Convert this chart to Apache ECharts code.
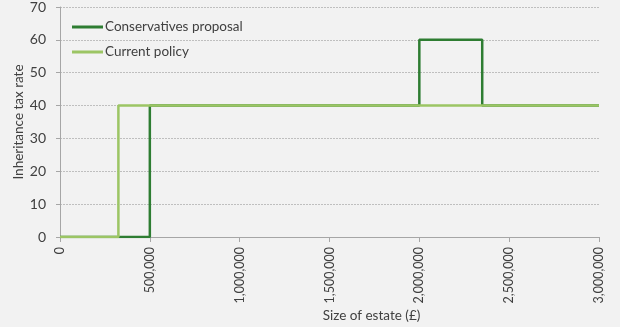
<!DOCTYPE html>
<html><head><meta charset="utf-8">
<script src="https://cdn.jsdelivr.net/npm/echarts@6/dist/echarts.min.js"></script>
<style>html,body{margin:0;padding:0;background:#f2f2f2}#c{width:620px;height:327px}</style>
</head><body><div id="c"></div>
<script>
// Estate sizes (£) and tax rates (%), as step points
const conservativesX = [0, 500000, 500000, 2000000, 2000000, 2350000, 2350000, 3000000];
const conservativesY = [0, 0, 40, 40, 60, 60, 40, 40];
const currentX = [0, 325000, 325000, 3000000];
const currentY = [0, 0, 40, 40];
const seriesNames = ['Conservatives proposal', 'Current policy'];
const yTicks = [0, 10, 20, 30, 40, 50, 60, 70];
const xTicks = [0, 500000, 1000000, 1500000, 2000000, 2500000, 3000000];

const zip = (a, b) => a.map((v, i) => [v, b[i]]);
const font = 'Lato, "Open Sans", sans-serif';
const chart = echarts.init(document.getElementById('c'));
chart.setOption({
  backgroundColor: '#f2f2f2',
  animation: false,
  textStyle: { fontFamily: font },
  grid: { left: 60, right: 21, top: 7, bottom: 90, containLabel: false, outerBoundsMode: 'none' },
  legend: {
    orient: 'vertical', left: 67, top: 15, itemGap: 11,
    itemWidth: 31, itemHeight: 3, icon: 'rect',
    textStyle: { fontSize: 13.5, color: '#404040', fontFamily: font, padding: [0, 0, 0, -3] },
    data: seriesNames
  },
  xAxis: {
    type: 'value', min: xTicks[0], max: xTicks[xTicks.length - 1], interval: 500000,
    name: 'Size of estate (£)', nameLocation: 'middle', nameGap: 72, nameMoveOverlap: false,
    nameTextStyle: { fontSize: 13.5, color: '#404040', padding: [0, 0, 0, 84], fontFamily: font },
    axisLine: { show: true, lineStyle: { color: '#a6a6a6' } },
    axisTick: { show: true, length: 5, lineStyle: { color: '#a6a6a6' } },
    axisLabel: {
      rotate: 90, fontSize: 12.5, color: '#404040', margin: 10, fontFamily: font,
      formatter: v => v.toLocaleString('en-GB')
    },
    splitLine: { show: false }
  },
  yAxis: {
    type: 'value', min: yTicks[0], max: yTicks[yTicks.length - 1], interval: 10,
    name: 'Inheritance tax rate', nameLocation: 'middle', nameGap: 34, nameRotate: 90, nameMoveOverlap: false,
    nameTextStyle: { fontSize: 13.5, color: '#404040', fontFamily: font },
    axisLine: { show: true, lineStyle: { color: '#a6a6a6' } },
    axisTick: { show: true, length: 4, lineStyle: { color: '#a6a6a6' } },
    axisLabel: { fontSize: 14, color: '#404040', margin: 14, fontFamily: font },
    splitLine: { show: true, lineStyle: { color: '#bfbfbf', type: [2, 1], width: 1 } }
  },
  series: [
    {
      name: seriesNames[0], type: 'line', symbol: 'none', z: 2,
      data: zip(conservativesX, conservativesY),
      lineStyle: { color: '#2e7d32', width: 2.5 }, itemStyle: { color: '#2e7d32' }
    },
    {
      name: seriesNames[1], type: 'line', symbol: 'none', z: 3,
      data: zip(currentX, currentY),
      lineStyle: { color: '#9cc564', width: 2.5 }, itemStyle: { color: '#9cc564' }
    }
  ]
});
</script></body></html>
